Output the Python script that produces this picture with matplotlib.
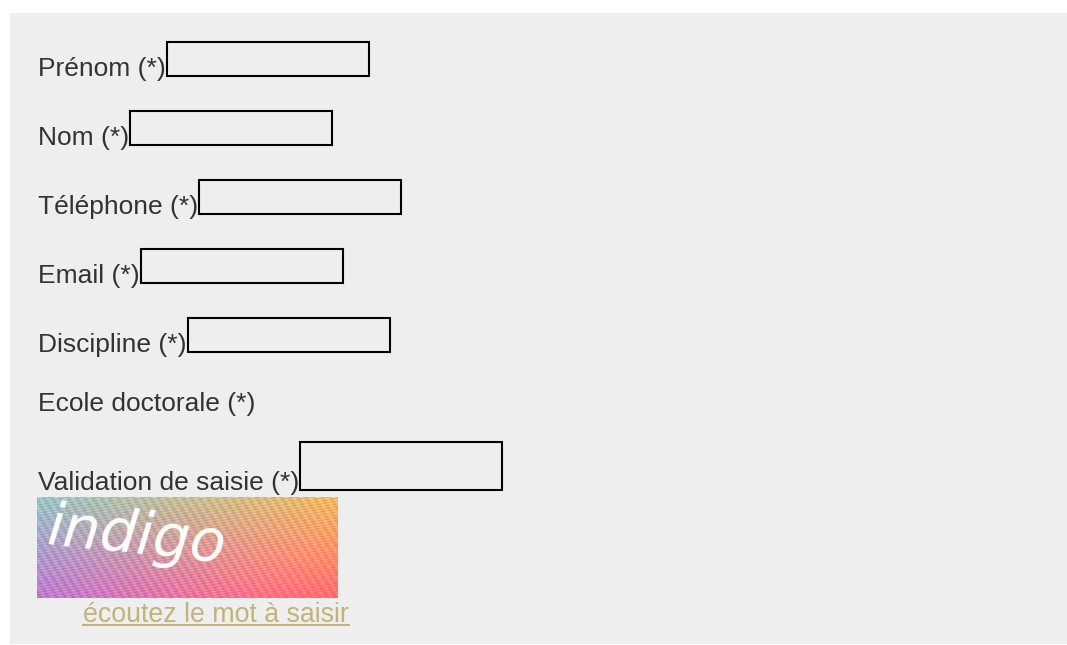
import matplotlib
matplotlib.use("Agg")
import matplotlib.pyplot as plt
from matplotlib.patches import Rectangle
import numpy as np

# form content
labels = ["Prénom (*)", "Nom (*)", "Téléphone (*)", "Email (*)",
          "Discipline (*)", "Ecole doctorale (*)", "Validation de saisie (*)"]
has_input = [True, True, True, True, True, False, True]
captcha_word = "indigo"
link_text = "écoutez le mot à saisir"

W, H = 1067, 645
plt.rcParams['font.family'] = ['Liberation Sans', 'DejaVu Sans']

fig = plt.figure(figsize=(W / 100, H / 100), dpi=100)
ax = fig.add_axes([0, 0, 1, 1])
ax.set_xlim(0, W)
ax.set_ylim(H, 0)
ax.axis('off')

bg = '#eeeeee'
ax.add_patch(Rectangle((10, 13), W - 10, H - 14, facecolor=bg, edgecolor='none'))

baselines = [76, 145, 214, 283, 352, 411, 490]
fs = 19
for lab, inp, yb in zip(labels, has_input, baselines):
    t = ax.text(38, yb, lab, fontsize=fs, color='#333333', va='baseline', ha='left')
    if inp:
        fig.canvas.draw()
        bb = t.get_window_extent()
        x0 = bb.x1 + 1
        h = 48 if lab.startswith("Validation") else 34
        ax.add_patch(Rectangle((x0, yb - 0.5 - h), 202, h, facecolor='none',
                               edgecolor='black', linewidth=1.5))

# captcha image: pastel gradient with a fine texture
ny, nx = 101, 301
yy, xx = np.mgrid[0:1:ny * 1j, 0:1:nx * 1j]
tex = np.sin(xx * 173 + yy * 91) * np.cos(xx * 57 - yy * 139)
r = 0.60 + 0.35 * xx + 0.15 * yy + 0.06 * tex
g = 0.78 - 0.30 * yy - 0.05 * xx + 0.10 * tex
b = 0.78 - 0.40 * xx + 0.05 * yy + 0.08 * np.cos(xx * 211 + yy * 67)
img = np.clip(np.dstack([r, g, b]), 0, 1)
ax.imshow(img, extent=(37, 338, 598, 497), aspect='auto', zorder=2,
          interpolation='nearest')
ax.text(46, 544, captcha_word, fontsize=42, color='white', rotation=-6,
        va='baseline', ha='left', zorder=3, rotation_mode='anchor',
        family=['DejaVu Sans'], fontstyle='italic')
ax.set_xlim(0, W)
ax.set_ylim(H, 0)

lk = ax.text(83, 622, link_text, fontsize=19.3, color='#c2b37a', va='baseline', ha='left')
fig.canvas.draw()
lb = lk.get_window_extent()
ax.plot([lb.x0, lb.x1], [624.5, 624.5], color='#c2b37a', linewidth=1.4)

fig.savefig("out.png", dpi=100, facecolor='white')
